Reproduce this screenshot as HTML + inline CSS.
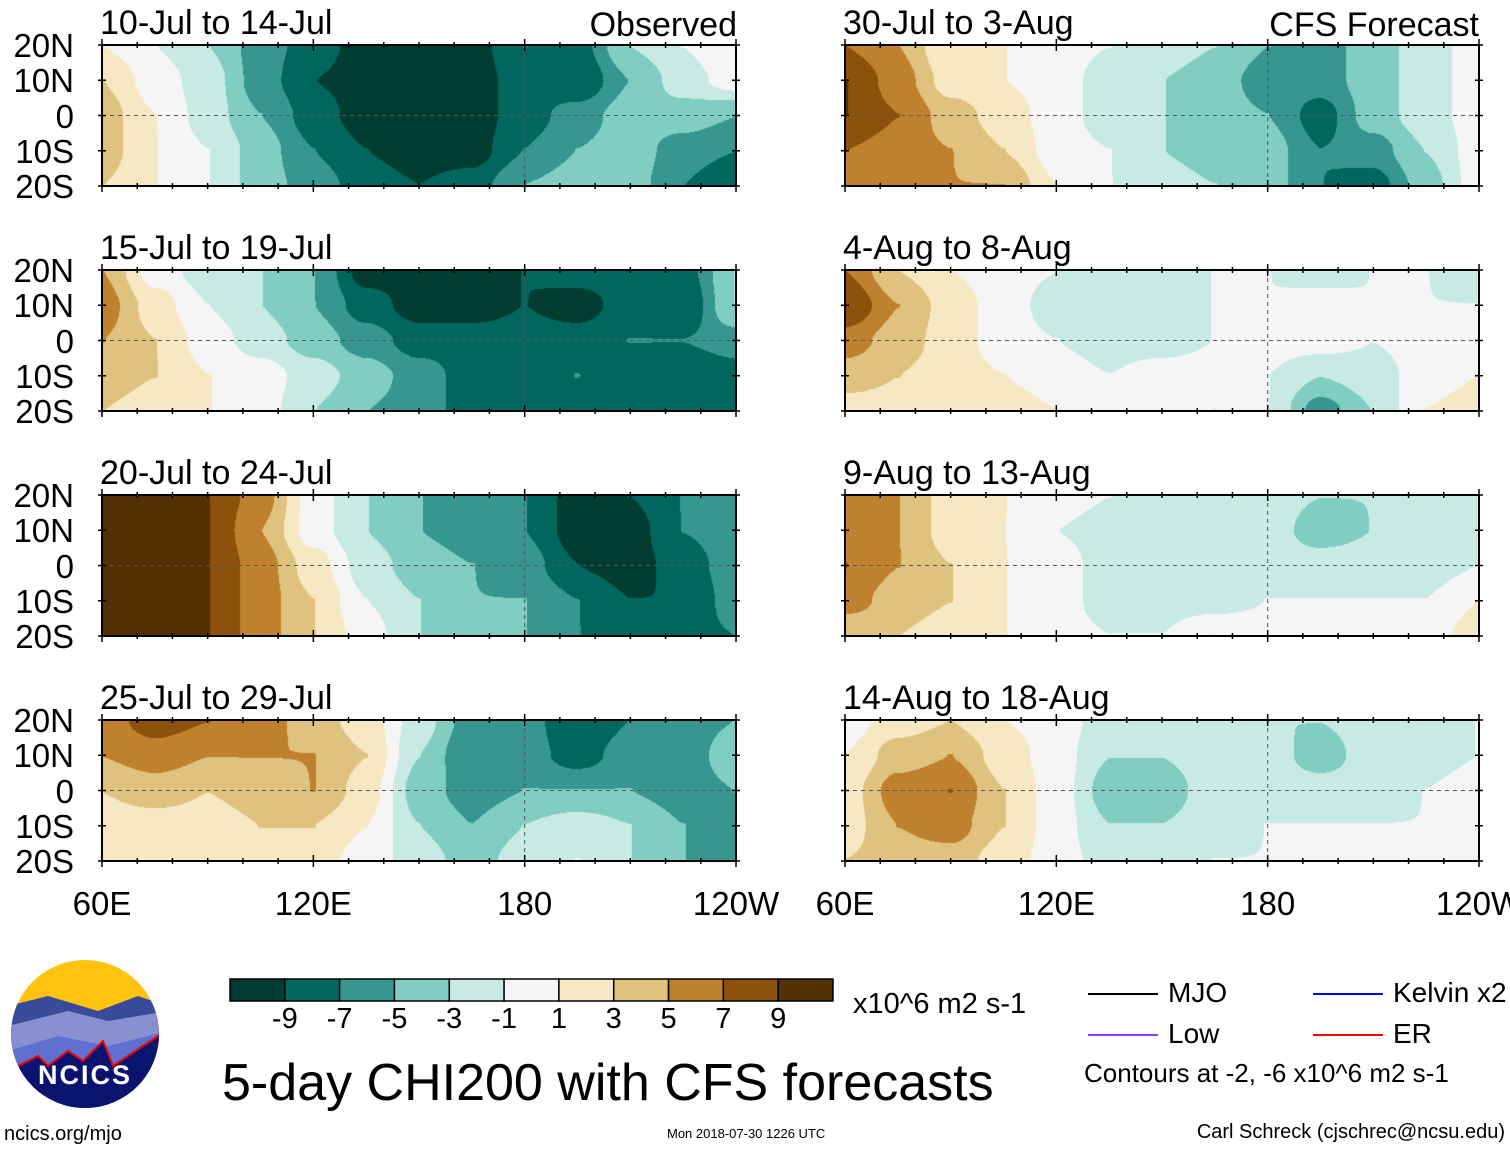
<!DOCTYPE html>
<html><head><meta charset="utf-8">
<style>
body{margin:0;background:#fff;width:1510px;height:1149px;position:relative;overflow:hidden;font-family:"Liberation Sans",sans-serif;color:#000}
.t{position:absolute;white-space:nowrap;line-height:1}
canvas{position:absolute}
</style></head><body>
<svg id="ov" width="1510" height="1149" style="position:absolute;left:0;top:0"></svg>
<div id="txt"></div>
<script>
const levels=[-9,-7,-5,-3,-1,1,3,5,7,9];
const colors=["#003c30","#01665e","#35978f","#80cdc1","#c7eae5","#f5f5f5","#f6e8c3","#dfc27d","#bf812d","#8c510a","#543005"];
const lons=[60,75,90,105,120,135,150,165,180,195,210,225,240];
const lats=[20,10,0,-10,-20];
const titles=["10-Jul to 14-Jul","15-Jul to 19-Jul","20-Jul to 24-Jul","25-Jul to 29-Jul","30-Jul to 3-Aug","4-Aug to 8-Aug","9-Aug to 13-Aug","14-Aug to 18-Aug"];
const field1=[[1,-1,-3,-6,-8,-10,-10,-10,-7,-8,-3,-1,1],[3,0,-2,-6,-9,-10,-10,-10,-8,-9,-5,-2,0],[4,1,-2,-5,-8,-10,-10,-10,-8,-6,-4,-4,-5],[4,1,-1,-4,-7,-9,-10,-10,-7,-5,-4,-6,-7],[3,1,-1,-4,-6,-8,-9,-8,-5,-4,-4,-7,-9]];
const field2=[[5,0,-2,-3,-5,-10,-10,-10,-9,-8,-8,-8,-3],[6,2,-1,-3,-5,-8,-10,-10,-9,-10,-8,-9,-3],[5,3,0,-2,-4,-6,-8,-8,-8,-8,-7,-7,-6],[4,3,1,0,-2,-4,-6,-8,-8,-7,-8,-9,-8],[3,2,1,0,-3,-5,-6,-8,-8,-8,-9,-9,-9]];
const field3=[[10,10,9,6,0,-3,-5,-6,-7,-10,-9,-7,-6],[10,10,9,5,0,-3,-5,-6,-7,-10,-10,-7,-6],[10,10,9,6,2,-2,-4,-5,-6,-9,-10,-8,-6],[10,10,9,6,3,-1,-3,-5,-5,-7,-9,-9,-6],[10,10,9,6,3,0,-3,-5,-5,-7,-8,-8,-7]];
const field4=[[6,8,7,6,4,2,-2,-6,-6,-9,-7,-6,-5],[5,6,5,5,5,3,-3,-7,-6,-8,-6,-6,-4],[3,4,3,4,5,2,-4,-6,-5,-5,-5,-6,-5],[2,2,2,3,3,1,-3,-5,-3,-2,-3,-5,-6],[1,1,1,2,2,0,-2,-4,-2,-1,-3,-5,-6]];
const field5=[[7,5,1,1,0,-1,-2,-3,-5,-6,-4,-2,0],[9,6,2,1,0,-2,-3,-4,-6,-6,-4,-2,0],[9,7,4,2,0,-2,-3,-4,-5,-8,-4,-2,0],[7,6,5,3,0,-1,-3,-4,-4,-7,-6,-3,0],[5,5,5,5,1,-1,-2,-3,-4,-7,-8,-4,0]];
const field6=[[7,3,1,0,-1,-3,-2,-1,-1,-2,-1,-1,-2],[9,5,2,0,-2,-3,-2,-1,-1,0,-1,-1,-1],[6,4,2,0,-1,-2,-2,-1,0,0,-1,0,0],[4,3,2,1,0,-1,0,0,-1,-3,-2,0,1],[2,2,2,2,1,0,0,1,-1,-6,-3,1,2]];
const field7=[[5,5,2,1,0,-1,-2,-2,-2,-3,-3,-2,-2],[6,5,2,1,-1,-2,-2,-3,-2,-4,-3,-2,-2],[7,5,3,1,0,-2,-3,-2,-2,-2,-2,-2,-1],[6,4,3,1,0,-2,-2,-2,-1,-1,-1,-1,1],[3,3,2,1,0,-1,-1,1,0,-1,0,0,2]];
const field8=[[0,2,3,1,0,-2,-2,-2,-3,-3,-2,-2,-1],[1,4,5,2,0,-3,-3,-2,-2,-4,-2,-2,-1],[2,6,7,3,0,-4,-4,-2,-2,-2,-2,-1,0],[2,5,6,3,0,-3,-3,-2,-1,-1,-1,-1,0],[3,4,4,2,0,-2,-2,-1,-1,-1,0,0,0]];
const fields=[field1,field2,field3,field4,field5,field6,field7,field8];
const xTicks=["60E","120E","180","120W"];
const xTickLons=[60,120,180,240];
const yTicks=["20N","10N","0","10S","20S"];

const tops=[45,270,495,720], H=141;
const lefts=[102,845], W=634;
const txt=document.getElementById('txt');
const ov=document.getElementById('ov');
const NS="http://www.w3.org/2000/svg";
function addText(s,x,y,size,name,align){
  const d=document.createElement('div');d.className='t';d.textContent=s;
  d.style.fontSize=size+'px';d.style.top=y+'px';
  if(align==='right'){d.style.right=(1510-x)+'px';}
  else if(align==='center'){d.style.left=x+'px';d.style.transform='translateX(-50%)';}
  else d.style.left=x+'px';
  
  
  txt.appendChild(d);return d;
}
function colorOf(v){v+=0.013;let i=0;while(i<levels.length&&v>levels[i])i++;return colors[i];}
function hex(c){return [parseInt(c.slice(1,3),16),parseInt(c.slice(3,5),16),parseInt(c.slice(5,7),16)];}
function xScale(lon,x0){return x0+(lon-60)/180*W;}
function yScale(lat,y0){return y0+(20-lat)/40*H;}
function line(x1,y1,x2,y2,st,w,dash,name){
  const l=document.createElementNS(NS,'line');
  l.setAttribute('x1',x1);l.setAttribute('y1',y1);l.setAttribute('x2',x2);l.setAttribute('y2',y2);
  l.setAttribute('stroke',st);l.setAttribute('stroke-width',w);if(dash)l.setAttribute('stroke-dasharray',dash);
  
  
  ov.appendChild(l);
}
function smooth(t){return t*t*(3-2*t);}
fields.forEach((f,p)=>{
  const col=p<4?0:1,row=p%4;
  const x0=lefts[col],y0=tops[row];
  const c=document.createElement('canvas');c.width=W;c.height=H;
  c.style.left=x0+'px';c.style.top=y0+'px';
  
  
  document.body.insertBefore(c,ov);
  const ctx=c.getContext('2d');const img=ctx.createImageData(W,H);
  for(let py=0;py<H;py++){
    const lat=20-py/(H-1)*40;
    const v=(20-lat)/10;const j=Math.min(3,Math.floor(v));const fv=smooth(v-j);
    for(let px=0;px<W;px++){
      const lon=60+px/(W-1)*180;
      const u=(lon-lons[0])/15;const i=Math.min(11,Math.floor(u));const fu=smooth(u-i);
      const val=f[j][i]*(1-fu)*(1-fv)+f[j][i+1]*fu*(1-fv)+f[j+1][i]*(1-fu)*fv+f[j+1][i+1]*fu*fv;
      const rgb=hex(colorOf(val));const k=(py*W+px)*4;
      img.data[k]=rgb[0];img.data[k+1]=rgb[1];img.data[k+2]=rgb[2];img.data[k+3]=255;
    }
  }
  ctx.putImageData(img,0,0);
  const r=document.createElementNS(NS,'rect');
  r.setAttribute('x',x0);r.setAttribute('y',y0);r.setAttribute('width',W);r.setAttribute('height',H);
  r.setAttribute('fill','none');r.setAttribute('stroke','#000');r.setAttribute('stroke-width',2);
  
  
  ov.appendChild(r);
  line(x0,yScale(0,y0),x0+W,yScale(0,y0),'#555',1,'4,4','equator-line');
  line(xScale(180,x0),y0,xScale(180,x0),y0+H,'#555',1,'4,4','dateline');
  for(let lon=60;lon<=240;lon+=10){
    const x=xScale(lon,x0);const len=(lon%60===0)?6:3;
    line(x,y0-len,x,y0+len,'#000',1.5,null,'x-tick');
    line(x,y0+H-len,x,y0+H+len,'#000',1.5,null,'x-tick');
  }
  lats.forEach(lt=>{const y=yScale(lt,y0);line(x0-4,y,x0+4,y,'#000',1.5,null,'y-tick');line(x0+W-4,y,x0+W+4,y,'#000',1.5,null,'y-tick');});
  addText(titles[p],x0-2,y0-39,34,'panel-title');
  if(col===0) yTicks.forEach((s,k)=>addText(s,74,yScale(lats[k],y0)-16,33,'y-tick-label','right'));
});
addText('Observed',737,8,34,'observed-label','right');
addText('CFS Forecast',1479,8,34,'cfs-forecast-label','right');
[0,1].forEach(col=>xTickLons.forEach((lon,k)=>addText(xTicks[k],xScale(lon,lefts[col]),887,33,'x-tick-label','center')));
const cbx=230,cbw=603/11;
colors.forEach((c,k)=>{
  const r=document.createElementNS(NS,'rect');
  r.setAttribute('x',cbx+k*cbw);r.setAttribute('y',979);r.setAttribute('width',cbw);r.setAttribute('height',22);
  r.setAttribute('fill',c);r.setAttribute('stroke','#000');r.setAttribute('stroke-width',1.5);
  
  
  ov.appendChild(r);
});
levels.forEach((l,k)=>addText(String(l),cbx+(k+1)*cbw,1005,29,'colorbar-label','center'));
addText('x10^6 m2 s-1',853,990,29,'colorbar-units');
addText('5-day CHI200 with CFS forecasts',222,1057,52,'chart-title');
addText('ncics.org/mjo',4,1124,20,'ncics-url');
addText('Mon 2018-07-30 1226 UTC',667,1127,13,'timestamp');
addText('Carl Schreck (cjschrec@ncsu.edu)',1505,1122,20,'author-credit','right');
const leg=[["MJO","#000",1088,994],["Kelvin x2","#0000ff",1313,994],["Low","#9933ff",1088,1035],["ER","#ff0000",1313,1035]];
leg.forEach(l=>{line(l[2],l[3],l[2]+70,l[3],l[1],2,null,'legend-line');addText(l[0],l[2]+80,l[3]-15,28,'legend-entry');});
addText('Contours at -2, -6 x10^6 m2 s-1',1084,1060,26,'contour-note');
</script>
<svg width="160" height="160" style="position:absolute;top:956px;left:8px">
<defs><clipPath id="cc"><circle cx="77" cy="78" r="74"/></clipPath></defs>
<g clip-path="url(#cc)">
<rect x="0" y="0" width="160" height="160" fill="#ffc20e"/>
<path d="M0 50 L40 40 L90 55 L130 40 L160 50 L160 160 L0 160Z" fill="#3a4a9a"/>
<path d="M0 70 L60 55 L100 65 L160 55 L160 160 L0 160Z" fill="#8890d0"/>
<path d="M0 95 L50 80 L100 90 L160 75 L160 160 L0 160Z" fill="#6070d0"/>
<path d="M0 115 L30 100 L40 110 L60 95 L75 105 L95 85 L105 110 L120 100 L150 80 L160 75 L160 160 L0 160Z" fill="#0a1470" stroke="#e00" stroke-width="2"/>
</g>
<text x="77" y="128" text-anchor="middle" font-family="Liberation Sans" font-weight="bold" font-size="27" fill="#fff" letter-spacing="2">NCICS</text>
</svg>
</body></html>
